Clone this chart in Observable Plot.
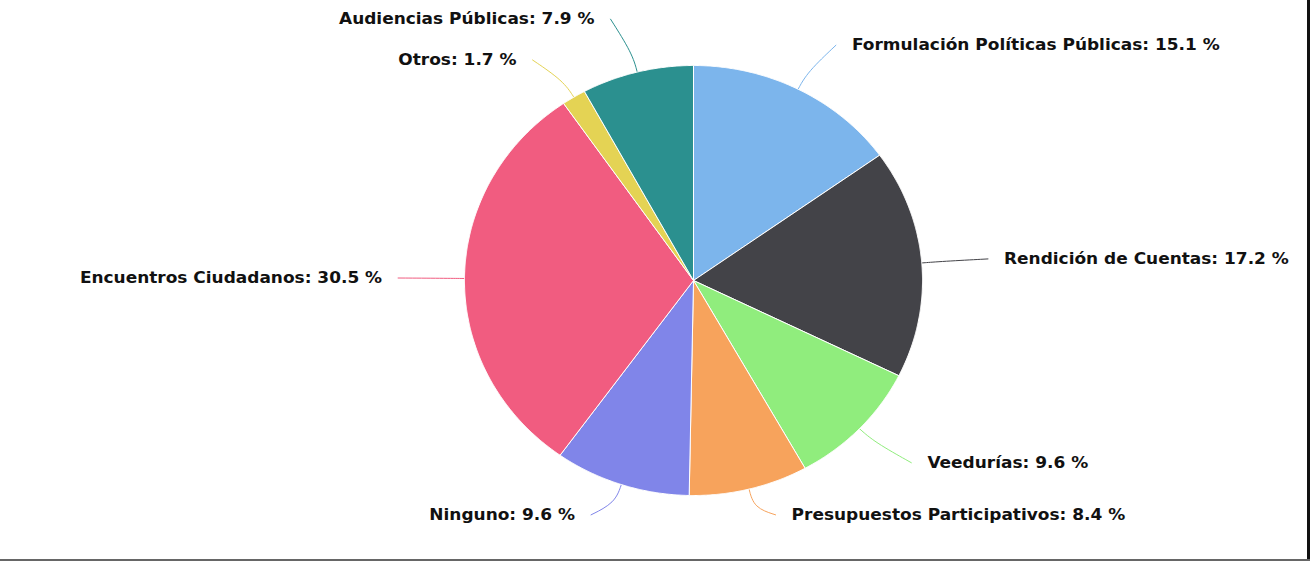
<!DOCTYPE html>
<html>
<head>
<meta charset="utf-8">
<script src="https://cdn.jsdelivr.net/npm/d3@7"></script>
<script src="https://cdn.jsdelivr.net/npm/@observablehq/plot@0.6"></script>
<style>
  html, body { margin: 0; padding: 0; background: #fff; }
  #wrap { position: relative; width: 1314px; height: 561px; overflow: hidden; }
  #wrap svg { display: block; }
  .border-right { position: absolute; left: 1307px; top: 0; width: 3px; height: 561px; background: #111; }
  .border-bottom { position: absolute; left: 0; top: 559px; width: 1310px; height: 2px; background: #666; }
</style>
</head>
<body>
<div id="wrap"></div>
<script>
// ---- data ----
const categories = [
  "Formulación Políticas Públicas",
  "Rendición de Cuentas",
  "Veedurías",
  "Presupuestos Participativos",
  "Ninguno",
  "Encuentros Ciudadanos",
  "Otros",
  "Audiencias Públicas"
];
const values = [15.1, 17.2, 9.6, 8.4, 9.6, 30.5, 1.7, 7.9];
const colors = ["#7cb5ec", "#434348", "#90ed7d", "#f7a35c", "#8085e9", "#f15c80", "#e4d354", "#2b908f"];

// ---- layout (geometry derived from data) ----
const pie = d3.pie().sort(null).value(d => d.value)(categories.map((name, i) => ({name, value: values[i]})));

const slices = [];
pie.forEach(a => {
  const name = a.data.name;
  slices.push({name, x: 0, y: 0});
  const n = Math.max(2, Math.ceil((a.endAngle - a.startAngle) / 0.005));
  for (let k = 0; k <= n; k++) {
    const t = a.startAngle + (a.endAngle - a.startAngle) * k / n;
    slices.push({name, x: Math.sin(t), y: Math.cos(t)});
  }
  slices.push({name, x: 0, y: 0});
});

const RL = 1.23, GAP = 0.13, MINSEP = 0.19;
const labels = pie.map(a => {
  const t = (a.startAngle + a.endAngle) / 2;
  const side = Math.sin(t) >= 0 ? 1 : -1;
  return {
    name: a.data.name,
    value: a.data.value,
    t, side,
    lx: side * (RL * Math.abs(Math.sin(t)) + GAP),
    ly: RL * Math.cos(t),
    text: `${a.data.name}: ${a.data.value.toFixed(1)} %`
  };
});
// simple anti-collision per side
for (const s of [1, -1]) {
  const g = labels.filter(l => l.side === s).sort((a, b) => b.ly - a.ly);
  for (let i = 0; i < g.length - 1; i++) {
    const d = g[i].ly - g[i + 1].ly;
    if (d < MINSEP) {
      const push = (MINSEP - d) / 2;
      g[i].ly += push; g[i + 1].ly -= push;
    }
  }
}
labels.forEach(l => { l.ly = Math.max(-1.09, Math.min(1.225, l.ly)); });

const connectors = [];
labels.forEach(l => {
  connectors.push({name: l.name, x: Math.sin(l.t), y: Math.cos(l.t)});
  connectors.push({name: l.name, x: 1.09 * Math.sin(l.t), y: 1.09 * Math.cos(l.t)});
  connectors.push({name: l.name, x: l.lx - l.side * 0.07, y: l.ly});
});

const cx = 693, cy = 280, rx = 229, ry = 215;
const textStyle = {fontFamily: "DejaVu Sans, Verdana, sans-serif", fontSize: 16, fontWeight: "bold", fill: "#111"};

const chart = Plot.plot({
  width: 1314,
  height: 561,
  margin: 0,
  x: {domain: [-1, 1], range: [cx - rx, cx + rx], axis: null},
  y: {domain: [-1, 1], range: [cy + ry, cy - ry], axis: null},
  color: {domain: categories, range: colors},
  marks: [
    Plot.line(connectors, {x: "x", y: "y", z: "name", stroke: "name", strokeWidth: 1, curve: "basis"}),
    Plot.line(slices, {x: "x", y: "y", z: "name", fill: "name", stroke: "white", strokeWidth: 1, curve: "linear"}),
    Plot.text(labels.filter(l => l.side > 0), {x: "lx", y: "ly", text: "text", textAnchor: "start", ...textStyle}),
    Plot.text(labels.filter(l => l.side < 0), {x: "lx", y: "ly", text: "text", textAnchor: "end", ...textStyle})
  ]
});

const wrap = document.getElementById("wrap");
wrap.appendChild(chart);
const br = document.createElement("div"); br.className = "border-right"; wrap.appendChild(br);
const bb = document.createElement("div"); bb.className = "border-bottom"; wrap.appendChild(bb);

// slight horizontal stretch of labels to match the reference proportions
chart.querySelectorAll("text").forEach(t => {
  const L = t.getComputedTextLength();
  if (L > 0) {
    t.setAttribute("textLength", (L * 1.06).toFixed(1));
    t.setAttribute("lengthAdjust", "spacingAndGlyphs");
  }
});
</script>
</body>
</html>
